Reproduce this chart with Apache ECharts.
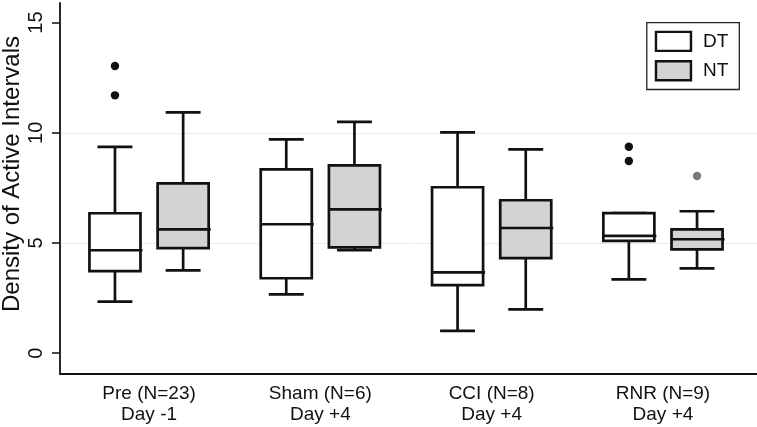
<!DOCTYPE html>
<html>
<head>
<meta charset="utf-8">
<script src="https://cdn.jsdelivr.net/npm/echarts@6/dist/echarts.min.js"></script>
<style>
html,body{margin:0;padding:0;background:#fff;}
#chart{width:757px;height:427px;}
</style>
</head>
<body>
<div id="chart"></div>
<script>
const categories = ['Pre (N=23)\nDay -1', 'Sham (N=6)\nDay +4', 'CCI (N=8)\nDay +4', 'RNR (N=9)\nDay +4'];
const seriesNames = ['DT', 'NT'];
// [min, Q1, median, Q3, max] per category
const dtStats = [[2.34, 3.72, 4.67, 6.35, 9.36], [2.67, 3.40, 5.85, 8.34, 9.70], [1.01, 3.09, 3.67, 7.53, 10.02], [3.35, 5.10, 5.32, 6.36, 6.36]];
const ntStats = [[3.76, 4.77, 5.62, 7.71, 10.93], [4.67, 4.80, 6.53, 8.52, 10.50], [1.99, 4.31, 5.68, 6.94, 9.25], [3.85, 4.71, 5.17, 5.62, 6.44]];
// [categoryIndex, value]
const dtOutliers = [[0, 13.03], [0, 11.70], [3, 9.37], [3, 8.72]];
const ntOutliers = [[3, 8.04]];
const yTicks = [0, 5, 10, 15];
const yMin = -0.944, yMax = 15.89;

const LINE = '#111';
const BOX_FRAC = 0.298, CAP_FRAC = 0.204, OFF_FRAC = 0.199;

function boxRenderer(offSign, fill) {
  return function (params, api) {
    const cat = api.value(0);
    const band = api.size([1, 0])[0];
    const pMin = api.coord([cat, api.value(1)]);
    const pQ1 = api.coord([cat, api.value(2)]);
    const pMed = api.coord([cat, api.value(3)]);
    const pQ3 = api.coord([cat, api.value(4)]);
    const pMax = api.coord([cat, api.value(5)]);
    const cx = pMin[0] + offSign * OFF_FRAC * band;
    const hb = BOX_FRAC * band / 2, hc = CAP_FRAC * band / 2;
    const ls = { stroke: LINE, lineWidth: 2.7 };
    const children = [
      { type: 'line', shape: { x1: cx, y1: pMin[1], x2: cx, y2: pQ1[1] }, style: ls },
      { type: 'line', shape: { x1: cx, y1: pQ3[1], x2: cx, y2: pMax[1] }, style: ls },
      { type: 'line', shape: { x1: cx - hc, y1: pMin[1], x2: cx + hc, y2: pMin[1] }, style: ls },
      { type: 'line', shape: { x1: cx - hc, y1: pMax[1], x2: cx + hc, y2: pMax[1] }, style: ls },
      { type: 'rect', shape: { x: cx - hb, y: pQ3[1], width: 2 * hb, height: pQ1[1] - pQ3[1] }, style: { fill: fill, stroke: LINE, lineWidth: 2.7 } },
      { type: 'line', shape: { x1: cx - hb, y1: pMed[1], x2: cx + hb + 2, y2: pMed[1] }, style: ls }
    ];
    return { type: 'group', children: children };
  };
}
function outlierRenderer(offSign, color) {
  return function (params, api) {
    const cat = api.value(0);
    const band = api.size([1, 0])[0];
    const p = api.coord([cat, api.value(1)]);
    return { type: 'circle', shape: { cx: p[0] + offSign * OFF_FRAC * band, cy: p[1], r: 4.2 }, style: { fill: color } };
  };
}

const dtData = dtStats.map((s, i) => [i].concat(s));
const ntData = ntStats.map((s, i) => [i].concat(s));

const chart = echarts.init(document.getElementById('chart'), null, { renderer: 'canvas' });
const FONT = "'Liberation Sans', Arial, sans-serif";
chart.setOption({
  backgroundColor: '#fff',
  animation: false,
  textStyle: { fontFamily: FONT },
  legend: {
    orient: 'vertical',
    right: 17.7,
    top: 22.7,
    padding: [8, 11, 8, 8],
    itemGap: 8,
    itemWidth: 35,
    itemHeight: 19,
    borderColor: '#222',
    borderWidth: 1.3,
    backgroundColor: '#fff',
    textStyle: { fontSize: 19, color: '#111', fontFamily: FONT, padding: [0, 0, 0, 7] },
    data: [
      { name: 'DT', icon: 'rect', itemStyle: { color: '#fff', borderColor: LINE, borderWidth: 2.4 } },
      { name: 'NT', icon: 'rect', itemStyle: { color: '#d3d3d3', borderColor: LINE, borderWidth: 2.4 } }
    ]
  },
  grid: [
    { left: 63.4, right: 8.4, top: 3, bottom: 53, containLabel: false, outerBoundsMode: 'none' },
    { left: 60, right: 0, top: 3, bottom: 53, containLabel: false, outerBoundsMode: 'none' }
  ],
  xAxis: [
    {
      gridIndex: 0, type: 'category', data: categories,
      axisLine: { show: false }, axisTick: { show: false }, splitLine: { show: false },
      axisLabel: { interval: 0, fontSize: 19, lineHeight: 20.5, color: '#111', margin: 10, fontFamily: FONT }
    },
    {
      gridIndex: 1, type: 'value', min: 0, max: 1,
      axisLine: { show: true, onZero: false, lineStyle: { color: LINE, width: 1.8 } },
      axisTick: { show: false }, axisLabel: { show: false }, splitLine: { show: false }
    }
  ],
  yAxis: [
    { gridIndex: 0, type: 'value', min: yMin, max: yMax, show: false, splitLine: { show: false } },
    {
      gridIndex: 1, type: 'value', min: yMin, max: yMax, splitNumber: 3,
      axisLine: { show: true, onZero: false, lineStyle: { color: LINE, width: 1.8 } },
      axisTick: { show: true, length: 8, customValues: yTicks, lineStyle: { color: LINE, width: 1.5 } },
      axisLabel: { customValues: yTicks, rotate: 90, fontSize: 20, color: '#111', margin: 14, fontFamily: FONT },
      splitLine: { show: true, showMinLine: false, showMaxLine: false, lineStyle: { color: '#ebebeb', width: 1 } },
      name: 'Density of Active Intervals',
      nameLocation: 'middle',
      nameMoveOverlap: false,
      nameGap: 36,
      nameTextStyle: { fontSize: 24, color: '#111', fontFamily: FONT, padding: [0, 0, 0, 29] }
    }
  ],
  series: [
    { name: 'DT', type: 'custom', xAxisIndex: 0, yAxisIndex: 0, itemStyle: { color: '#fff' }, renderItem: boxRenderer(-1, '#fff'), encode: { x: 0, y: [1, 2, 3, 4, 5] }, data: dtData, z: 3 },
    { name: 'NT', type: 'custom', xAxisIndex: 0, yAxisIndex: 0, itemStyle: { color: '#d3d3d3' }, renderItem: boxRenderer(1, '#d3d3d3'), encode: { x: 0, y: [1, 2, 3, 4, 5] }, data: ntData, z: 3 },
    { name: 'DT outliers', type: 'custom', xAxisIndex: 0, yAxisIndex: 0, renderItem: outlierRenderer(-1, '#111'), encode: { x: 0, y: 1 }, data: dtOutliers, z: 3 },
    { name: 'NT outliers', type: 'custom', xAxisIndex: 0, yAxisIndex: 0, renderItem: outlierRenderer(1, '#7a7a7a'), encode: { x: 0, y: 1 }, data: ntOutliers, z: 3 }
  ]
});
</script>
</body>
</html>
